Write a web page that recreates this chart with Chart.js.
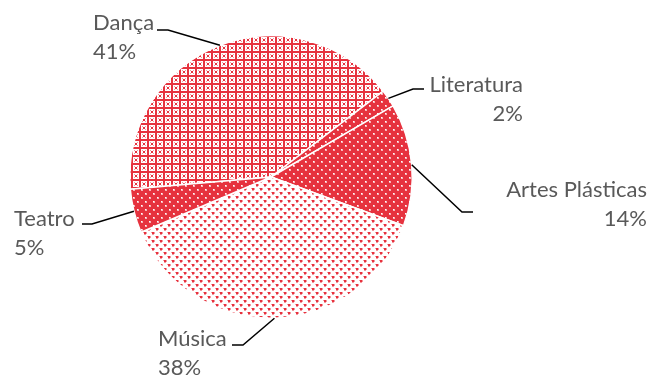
<!DOCTYPE html>
<html>
<head>
<meta charset="utf-8">
<script src="https://cdn.jsdelivr.net/npm/chart.js@4"></script>
<style>
  html, body { margin: 0; padding: 0; background: #fff; }
  canvas { display: block; }
</style>
</head>
<body>
<canvas id="chartPie" width="652" height="379"></canvas>
<script>
// data
const categories = ['Dança', 'Literatura', 'Artes Plásticas', 'Música', 'Teatro'];
const shares = [41, 2, 14, 38, 5];
const shareLabels = ['41%', '2%', '14%', '38%', '5%'];
const patternKinds = ['plaid', 'dots', 'dots', 'lattice', 'dots'];

const RED = '#E6323E';
const PINK = '#F49AA0';

function makePattern(kind) {
  const c = document.createElement('canvas');
  c.width = 8; c.height = 8;
  const g = c.getContext('2d');
  if (kind === 'dots') {
    g.fillStyle = RED; g.fillRect(0, 0, 8, 8);
    g.fillStyle = '#F7B5BA';
    g.fillRect(1, 1, 2, 2); g.fillRect(5, 5, 2, 2);
    g.fillStyle = '#fff';
    g.fillRect(1, 1, 1, 1); g.fillRect(5, 5, 1, 1);
  } else if (kind === 'plaid') {
    g.fillStyle = '#fff'; g.fillRect(0, 0, 8, 8);
    g.fillStyle = RED;
    g.fillRect(0, 3, 8, 2); g.fillRect(3, 0, 2, 8);
    g.fillRect(0, 0, 1, 1); g.fillRect(7, 7, 1, 1);
    g.fillRect(7, 0, 1, 1); g.fillRect(0, 7, 1, 1);
    g.fillStyle = PINK;
    g.fillRect(1, 1, 1, 1); g.fillRect(6, 6, 1, 1);
    g.fillRect(6, 1, 1, 1); g.fillRect(1, 6, 1, 1);
  } else {
    g.fillStyle = '#fff'; g.fillRect(0, 0, 8, 8);
    g.fillStyle = RED;
    g.fillRect(0, 0, 2, 2); g.fillRect(4, 4, 2, 2);
    g.fillStyle = PINK;
    g.fillRect(2, 0, 1, 2); g.fillRect(0, 2, 2, 1);
    g.fillRect(6, 4, 1, 2); g.fillRect(4, 6, 2, 1);
    g.fillRect(7, 0, 1, 1); g.fillRect(3, 4, 1, 1);
  }
  return g.createPattern(c, 'repeat');
}

// leader lines + labels (layout only)
const labelLayout = [
  { elbow: [168, 30], end: [157, 30], x: 93, align: 'left', y: 30 },
  { elbow: [413, 89], end: [424, 89], x: 523, align: 'right', y: 92 },
  { elbow: [462, 212], end: [473, 212], x: 647, align: 'right', y: 197 },
  { elbow: [243, 345], end: [232, 345], x: 158, align: 'left', y: 346 },
  { elbow: [92, 224], end: [82, 224], x: 14, align: 'left', y: 226 }
];

const pieLabels = {
  id: 'pieLabels',
  afterDatasetsDraw(chart) {
    const ctx = chart.ctx;
    const meta = chart.getDatasetMeta(0);
    ctx.save();
    meta.data.forEach((arc, i) => {
      const L = labelLayout[i];
      const mid = (arc.startAngle + arc.endAngle) / 2;
      const sx = arc.x + Math.cos(mid) * arc.outerRadius;
      const sy = arc.y + Math.sin(mid) * arc.outerRadius;
      ctx.beginPath();
      ctx.strokeStyle = '#000';
      ctx.lineWidth = 1.5;
      ctx.moveTo(sx, sy);
      ctx.lineTo(L.elbow[0], L.elbow[1]);
      ctx.lineTo(L.end[0], L.end[1]);
      ctx.stroke();

      ctx.fillStyle = '#595959';
      ctx.font = '22px Lato';
      ctx.textBaseline = 'alphabetic';
      ctx.textAlign = L.align;
      ctx.fillText(categories[i], L.x, L.y);
      ctx.fillText(shareLabels[i], L.x, L.y + 29);
    });
    ctx.restore();
  }
};

new Chart(document.getElementById('chartPie').getContext('2d'), {
  type: 'pie',
  data: {
    labels: categories,
    datasets: [{
      data: shares,
      backgroundColor: patternKinds.map(makePattern),
      borderColor: '#fff',
      borderWidth: 1.5
    }]
  },
  options: {
    responsive: false,
    animation: false,
    rotation: -95,
    layout: { padding: { left: 129, right: 239, top: 35, bottom: 60 } },
    plugins: {
      legend: { display: false },
      tooltip: { enabled: false }
    }
  },
  plugins: [pieLabels]
});
</script>
</body>
</html>
